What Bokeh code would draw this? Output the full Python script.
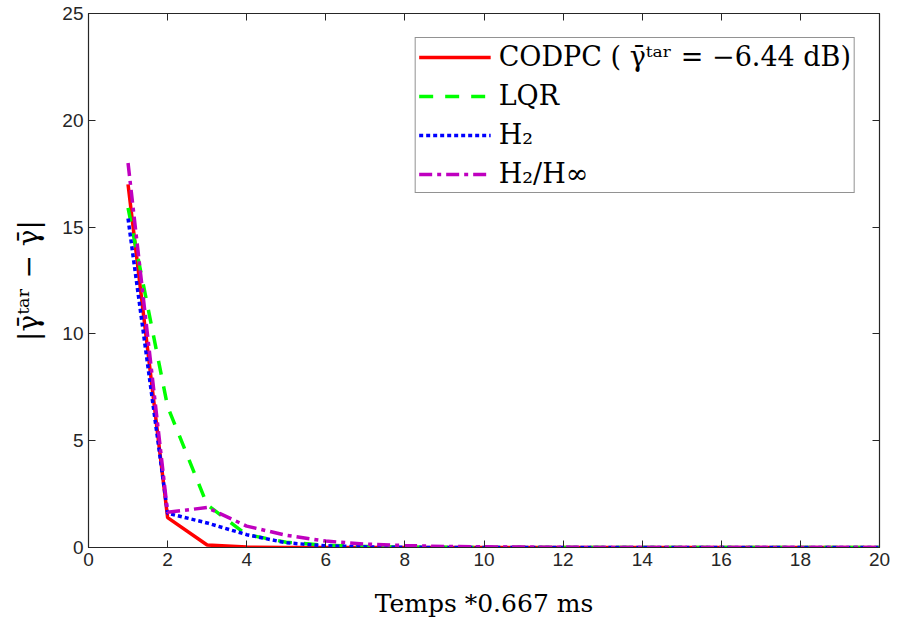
from bokeh.plotting import figure
from bokeh.models import LinearAxis, Legend, LegendItem, ColumnDataSource, FixedTicker
from bokeh.embed import file_html
from bokeh.resources import INLINE

# ---- data ----
steps = list(range(1, 21))
codpc = [17.0, 1.4, 0.12, 0.02, 0.005] + [0.0] * 15
lqr = [15.9, 6.6, 2.0, 0.6, 0.25, 0.1, 0.05, 0.02, 0.01] + [0.0] * 11
h2 = [15.4, 1.6, 1.15, 0.6, 0.22, 0.08, 0.03, 0.01] + [0.0] * 12
h2hinf = [18.0, 1.65, 1.87, 1.0, 0.57, 0.3, 0.16, 0.09, 0.05, 0.03, 0.02, 0.01] + [0.0] * 8

x_ticks = list(range(0, 21, 2))
y_ticks = [0, 5, 10, 15, 20, 25]

labels = ["CODPC ( γ̄ᵗᵃʳ = −6.44 dB)", "LQR", "H₂", "H₂/H∞"]
colors = ["#ff0000", "#00ff00", "#0000ff", "#bf00bf"]
dashes = ["solid", "14 12", "4 3", "13 5 4 5"]

SERIF = "DejaVu Serif"
SANS = "Liberation Sans"

p = figure(width=898, height=626, output_backend="svg", toolbar_location=None,
           x_range=(0, 20), y_range=(0, 25),
           min_border_left=88, min_border_right=19, min_border_top=13, min_border_bottom=79)
p.xgrid.visible = False
p.ygrid.visible = False
p.outline_line_color = "#262626"
p.outline_line_width = 1.2

renderers = []
for ys, c, d in zip([codpc, lqr, h2, h2hinf], colors, dashes):
    src = ColumnDataSource(dict(x=steps, y=ys))
    r = p.line("x", "y", source=src, line_color=c, line_width=3.5, line_dash=d)
    renderers.append(r)

for ax in [p.xaxis[0], p.yaxis[0]]:
    ax.major_tick_in = 7
    ax.major_tick_out = 0
    ax.minor_tick_in = 0
    ax.minor_tick_out = 0
    ax.axis_line_color = "#262626"
    ax.major_tick_line_color = "#262626"
    ax.major_label_text_font = SANS
    ax.major_label_text_font_size = "19px"
    ax.major_label_text_color = "#262626"
    ax.axis_label_text_font = SERIF
    ax.axis_label_text_font_style = "normal"
    ax.axis_label_text_color = "#000000"

p.xaxis[0].ticker = FixedTicker(ticks=x_ticks)
p.yaxis[0].ticker = FixedTicker(ticks=y_ticks)
p.xaxis[0].axis_label = "Temps *0.667 ms"
p.xaxis[0].axis_label_text_font_size = "25px"
p.xaxis[0].axis_label_standoff = 20
p.yaxis[0].axis_label = "|γ̄ᵗᵃʳ − γ̄|"
p.yaxis[0].axis_label_text_font_size = "28px"
p.yaxis[0].axis_label_standoff = 14

# mirrored ticks on top and right (box on)
for loc, tk in [("above", x_ticks), ("right", y_ticks)]:
    a = LinearAxis(ticker=FixedTicker(ticks=tk), major_tick_in=7, major_tick_out=0,
                   minor_tick_in=0, minor_tick_out=0,
                   major_label_overrides={t: "" for t in tk},
                   major_label_standoff=0,
                   axis_line_color="#262626", major_tick_line_color="#262626")
    p.add_layout(a, loc)

legend = Legend(items=[LegendItem(label=l, renderers=[r]) for l, r in zip(labels, renderers)],
                location="top_right", border_line_color="#262626", border_line_width=1.2,
                label_text_font=SERIF, label_text_font_size="27px", label_text_color="#000000",
                glyph_width=72, glyph_height=30, label_height=30, spacing=8,
                padding=3, margin=24, label_standoff=8, background_fill_alpha=1.0)
p.add_layout(legend)

open("out.html", "w").write(file_html(p, INLINE))
